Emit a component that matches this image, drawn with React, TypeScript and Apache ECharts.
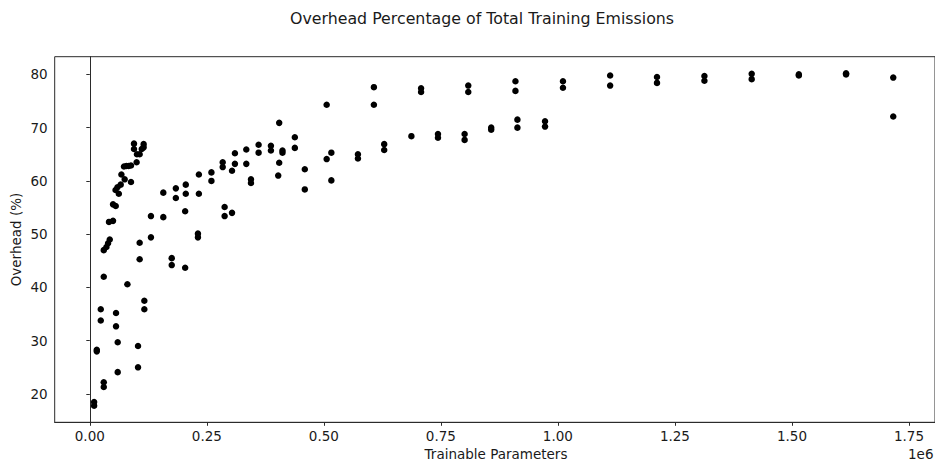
import React, { useEffect, useRef } from "react";
import * as echarts from "echarts";

const titleText = "Overhead Percentage of Total Training Emissions";
const xAxisLabel = "Trainable Parameters";
const yAxisLabel = "Overhead (%)";
const xOffsetText = "1e6";

const xTicks = [0, 250000, 500000, 750000, 1000000, 1250000, 1500000, 1750000];
const yTicks = [20, 30, 40, 50, 60, 70, 80];

// trainable parameters (in thousands) and overhead (%)
const paramsK = [
  9.2, 9.2, 14.9, 14.9, 23.4, 23.4, 29.8, 29.8, 29.8,
  29.8, 35.5, 39, 42.6, 41, 49.6, 49.6, 55.4, 56, 56, 59.6, 59.6,
  55, 59, 62, 66, 67.5, 74.5, 73, 78, 83, 88, 88, 80.3,
  94.4, 94.4, 100, 100.7, 106.5, 111, 115, 115,
  103, 103, 106.5, 106.5, 116.5, 116.5, 130.6, 130.6, 157, 157,
  175, 175, 183.8, 183.8, 203.7, 203.7, 205, 205, 231, 231, 233, 233,
  259.8, 259.8, 283.9, 283.9, 288, 288, 303.8, 303.8, 310, 310,
  334.3, 334.3, 344.3, 344.3, 360.6, 360.6, 386.9, 386.9, 404.6, 404.6, 402.5,
  411.6, 411.6, 438, 438, 459.3, 459.3, 506, 506, 516, 516, 572.8, 572.8,
  606.9, 606.9, 628.9, 628.9, 687, 707.7, 707.7, 743.8, 743.8, 800.7, 800.7,
  808.5, 808.5, 857.5, 857.5, 909.3, 909.3, 913.5, 913.5, 972.5, 972.5,
  1010.8, 1010.8, 1111.6, 1111.6, 1211.7, 1211.7, 1313, 1313, 1414, 1414,
  1514.7, 1514.7, 1615.6, 1615.6, 1716.4, 1716.4,
];
const overheadPct = [
  18.5, 17.8, 28.3, 28.0, 35.9, 33.8, 22.2, 21.3, 42.0,
  47.0, 47.6, 48.3, 49.0, 52.3, 52.5, 55.6, 55.3, 35.2, 32.7, 29.7, 24.1,
  58.3, 58.8, 57.6, 59.3, 61.2, 60.3, 62.7, 62.8, 62.8, 62.9, 59.8, 40.6,
  67.0, 66.0, 63.5, 65.0, 65.0, 66.0, 66.3, 66.9,
  29.0, 25.0, 48.4, 45.3, 37.5, 35.9, 53.4, 49.4, 57.8, 53.2,
  45.5, 44.2, 58.6, 56.8, 43.7, 54.3, 59.3, 57.6, 50.1, 49.4, 61.2, 57.6,
  61.6, 60.0, 63.5, 62.6, 55.1, 53.4, 54.0, 61.9, 65.2, 63.2,
  65.9, 63.2, 60.3, 59.6, 66.8, 65.3, 66.6, 65.7, 70.9, 63.4, 61.0,
  65.7, 65.3, 68.2, 66.2, 62.2, 58.4, 74.3, 64.1, 65.3, 60.1, 65.0, 64.2,
  77.6, 74.3, 66.9, 65.8, 68.4, 77.4, 76.7, 68.8, 68.1, 68.8, 67.7,
  77.9, 76.7, 70.0, 69.6, 78.7, 76.9, 71.5, 70.0, 71.2, 70.2,
  78.7, 77.5, 79.8, 77.9, 79.5, 78.4, 79.7, 78.8, 80.1, 79.1,
  80.0, 79.8, 80.2, 80.0, 79.4, 72.1,
];

const FONT = "DejaVu Sans";
const TEXT = "#1a1a1a";
const SPINE = "#2b2b2b";

export default function App() {
  const ref = useRef<HTMLDivElement>(null);
  useEffect(() => {
    if (!ref.current) return;
    const chart = echarts.init(ref.current, null, { renderer: "svg" });
    const data = paramsK.map((k, i) => [k * 1000, overheadPct[i]]);
    chart.setOption({
      animation: false,
      backgroundColor: "#ffffff",
      textStyle: { fontFamily: FONT },
      grid: {
        left: 54.7,
        top: 56.7,
        width: 883.3,
        height: 365.6,
        show: true,
        borderColor: SPINE,
        borderWidth: 1,
        backgroundColor: "transparent",
      },
      xAxis: {
        type: "value",
        min: -75000,
        max: 1805600,
        axisLine: { show: true, lineStyle: { color: SPINE, width: 1 } },
        axisTick: {
          show: true,
          inside: false,
          length: 3.5,
          customValues: xTicks,
          lineStyle: { color: SPINE, width: 1 },
        },
        axisLabel: {
          customValues: xTicks,
          margin: 7,
          fontSize: 13.5,
          color: TEXT,
          fontFamily: FONT,
          formatter: (v: number) => (v / 1e6).toFixed(2),
        },
        splitLine: { show: false },
      },
      yAxis: {
        type: "value",
        min: 14.68,
        max: 83.32,
        axisLine: { show: true, lineStyle: { color: SPINE, width: 1 } },
        axisTick: {
          show: true,
          inside: false,
          length: 3.5,
          customValues: yTicks,
          lineStyle: { color: SPINE, width: 1 },
        },
        axisLabel: {
          customValues: yTicks,
          margin: 7,
          fontSize: 13.5,
          color: TEXT,
          fontFamily: FONT,
          formatter: (v: number) => String(v),
        },
        splitLine: { show: false },
      },
      series: [
        {
          type: "scatter",
          data,
          symbol: "circle",
          symbolSize: 6.5,
          itemStyle: { color: "#000000", opacity: 1 },
          emphasis: { disabled: true },
        },
      ],
      graphic: [
        {
          type: "text",
          x: 482,
          y: 18,
          style: {
            text: titleText,
            fontFamily: FONT,
            fontSize: 15.8,
            fill: TEXT,
            textAlign: "center",
            textVerticalAlign: "middle",
          },
        },
        {
          type: "text",
          x: 496,
          y: 454,
          style: {
            text: xAxisLabel,
            fontFamily: FONT,
            fontSize: 13.5,
            fill: TEXT,
            textAlign: "center",
            textVerticalAlign: "middle",
          },
        },
        {
          type: "text",
          x: 933.5,
          y: 454,
          style: {
            text: xOffsetText,
            fontFamily: FONT,
            fontSize: 13.5,
            fill: TEXT,
            textAlign: "right",
            textVerticalAlign: "middle",
          },
        },
        {
          type: "text",
          x: 16,
          y: 239.5,
          rotation: Math.PI / 2,
          style: {
            text: yAxisLabel,
            fontFamily: FONT,
            fontSize: 13.5,
            fill: TEXT,
            textAlign: "center",
            textVerticalAlign: "middle",
          },
        },
      ],
    });
    return () => chart.dispose();
  }, []);
  return (
    <div
      ref={ref}
      style={{ position: "fixed", left: 0, top: 0, width: 935, height: 464, background: "#fff" }}
    />
  );
}
